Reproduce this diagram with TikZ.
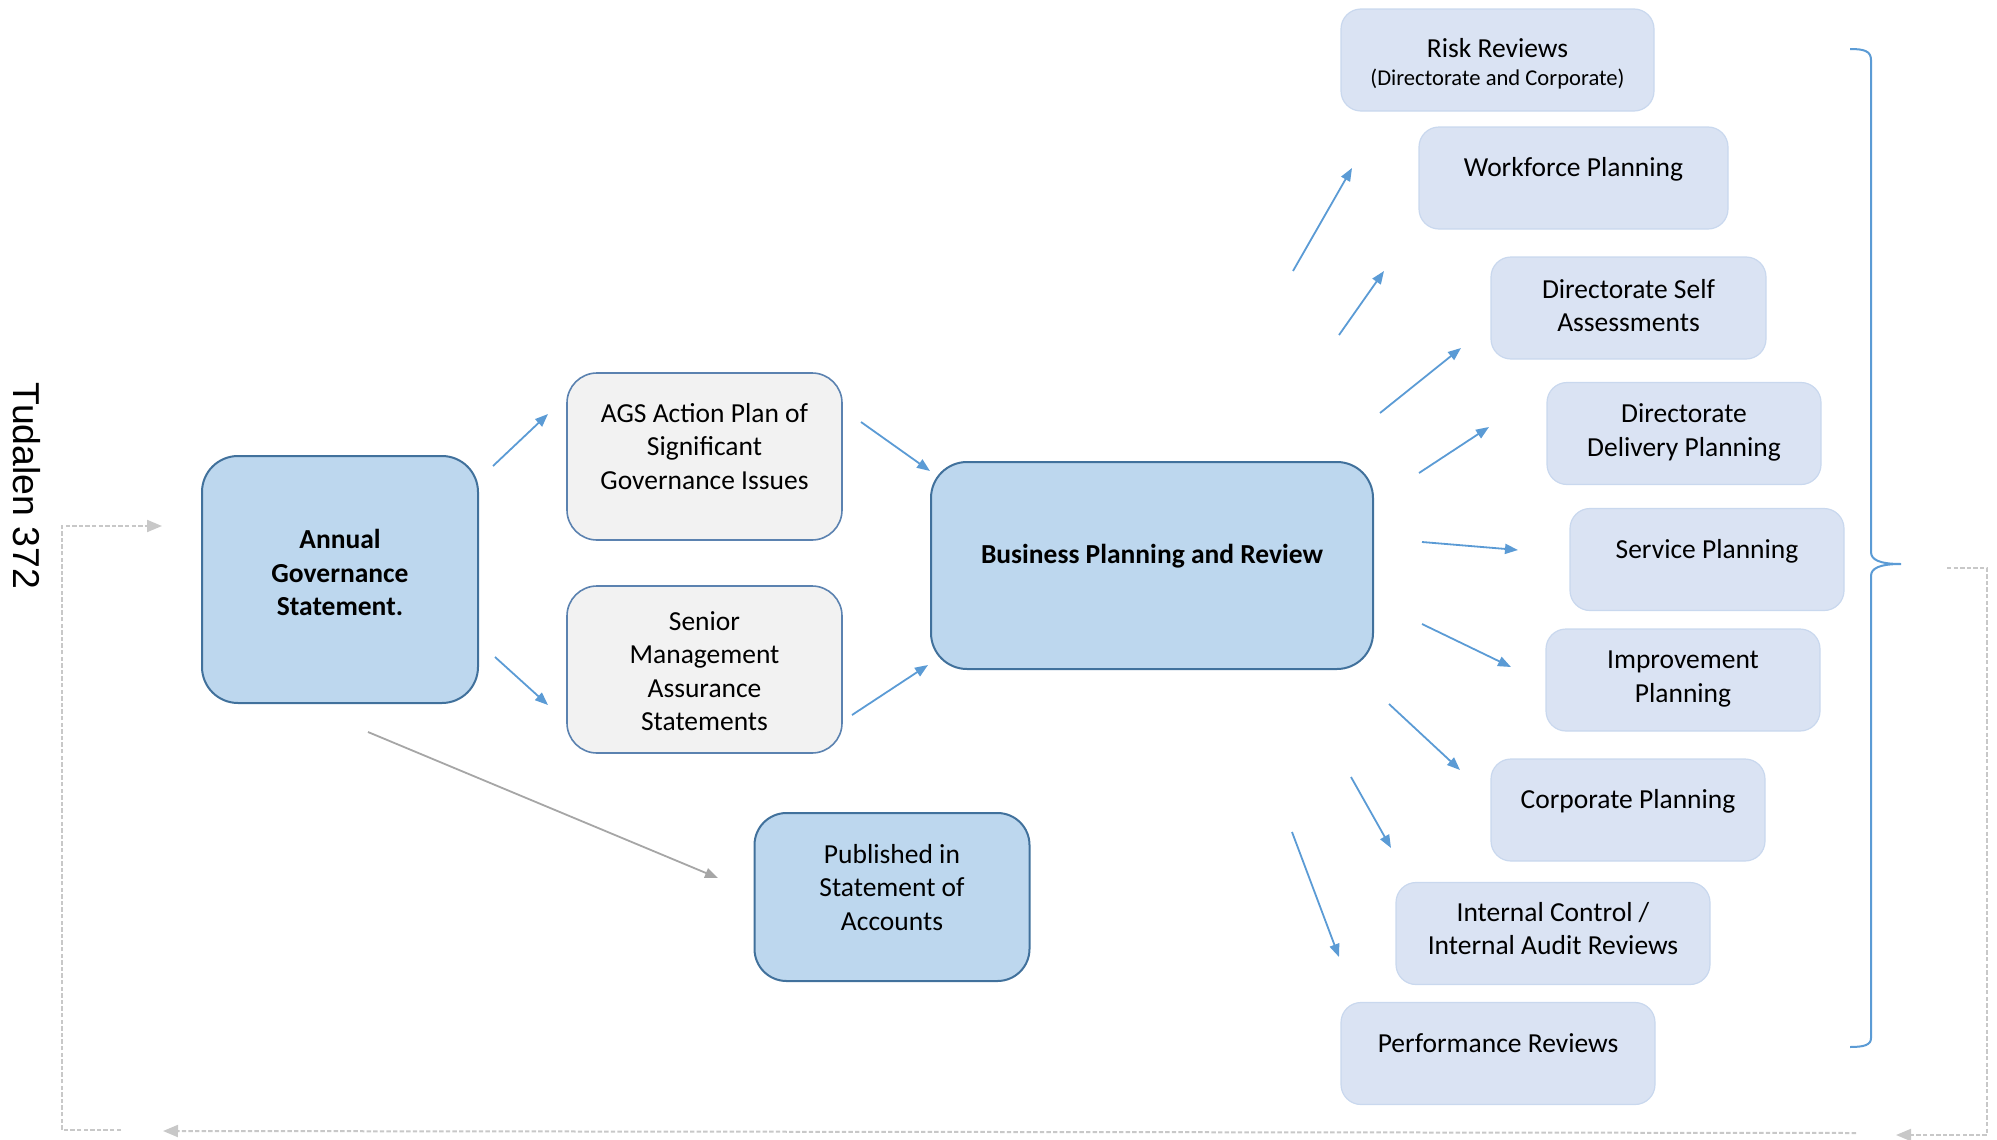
\documentclass[tikz,border=0pt]{standalone}
\usepackage{fontspec}
\setmainfont{Carlito}
\newfontfamily\pagefont{Liberation Sans}
\usetikzlibrary{arrows.meta}
\definecolor{boxblue}{HTML}{BDD7EE}
\definecolor{boxedge}{HTML}{41719C}
\definecolor{greyedge}{HTML}{5B82B0}
\definecolor{boxgray}{HTML}{F2F2F2}
\definecolor{sidefill}{HTML}{DAE3F3}
\definecolor{sideedge}{HTML}{C9D8EE}
\definecolor{arrowblue}{HTML}{5B9BD5}
\definecolor{greyarrow}{HTML}{A6A6A6}
\definecolor{dashgrey}{HTML}{C8C8C8}
\begin{document}
\begin{tikzpicture}[x=0.5pt,y=-0.5pt,
  bigbox/.style={draw=boxedge,line width=1pt,fill=boxblue,rounded corners=18pt,inner sep=0pt},
  greybox/.style={draw=greyedge,line width=0.8pt,fill=boxgray,rounded corners=15pt,inner sep=0pt},
  sidebox/.style={draw=sideedge,line width=0.6pt,fill=sidefill,rounded corners=10pt,inner sep=0pt,minimum height=51pt},
  txt/.style={align=center,inner sep=0pt,font=\fontsize{13.75pt}{16.75pt}\selectfont},
  btxt/.style={align=center,inner sep=0pt,font=\fontsize{13.75pt}{16.75pt}\selectfont\bfseries},
  flow/.style={draw=arrowblue,line width=0.9pt,-{Triangle[length=6.5pt,width=5pt]}},
  greyflow/.style={draw=greyarrow,line width=0.9pt,-{Triangle[length=6.5pt,width=5pt]}},
  fb/.style={draw=dashgrey,line width=1pt,dash pattern=on 2.2pt off 1.1pt},
  fbtip/.style={fb,-{Triangle[length=7.5pt,width=6pt]}},
  brace/.style={draw=arrowblue,line width=1pt}
]
\useasboundingbox (0,0) rectangle (1997,1140);

% page label
\node[rotate=-90,inner sep=0pt,font=\pagefont\fontsize{18.7pt}{22pt}\selectfont] (page) at (27,486) {Tudalen 372};

% main boxes
\node[bigbox,minimum width=138pt,minimum height=123.5pt] (ags) at (340,579.5) {};
\node[btxt] (agsT) at ([yshift=3.5pt]ags.center) {Annual\\Governance\\Statement.};

\node[greybox,minimum width=137.5pt,minimum height=83.5pt] (act) at (704.5,456.5) {};
\node[txt] (actT) at ([yshift=5pt]act.center) {AGS Action Plan of\\Significant\\Governance Issues};

\node[greybox,minimum width=137.5pt,minimum height=83.5pt] (sen) at (704.5,669.5) {};
\node[txt] (senT) at ([yshift=-0.7pt]sen.center) {Senior\\Management\\Assurance\\Statements};

\node[bigbox,minimum width=221pt,minimum height=103.5pt] (bpr) at (1152,565.5) {};
\node[btxt] (bprT) at ([yshift=4.5pt]bpr.center) {Business Planning and Review};

\node[bigbox,rounded corners=16pt,minimum width=137.5pt,minimum height=84pt] (pub) at (892,897) {};
\node[txt] (pubT) at ([yshift=4.8pt]pub.center) {Published in\\Statement of\\Accounts};

% side boxes
\node[sidebox,minimum width=156.5pt] (r1) at (1497.5,60) {};
\node[txt] (r1T) at ([yshift=-1.8pt]r1.center) {Risk Reviews\\[-3pt]{\fontsize{11.3pt}{14pt}\selectfont (Directorate and Corporate)}};

\node[sidebox,minimum width=154.5pt] (r2) at (1573.5,178) {};
\node[txt] (r2T) at ([yshift=4.3pt]r2.center) {Workforce Planning};

\node[sidebox,minimum width=137.5pt] (r3) at (1628.5,308) {};
\node[txt] (r3T) at ([yshift=1.2pt]r3.center) {Directorate Self\\Assessments};

\node[sidebox,minimum width=137pt] (r4) at (1684,433.5) {};
\node[txt] (r4T) at ([yshift=0.6pt]r4.center) {Directorate\\Delivery Planning};

\node[sidebox,minimum width=137pt] (r5) at (1707,559.5) {};
\node[txt] (r5T) at ([yshift=4.2pt]r5.center) {Service Planning};

\node[sidebox,minimum width=137pt] (r6) at (1683,680) {};
\node[txt] (r6T) at ([yshift=0.6pt]r6.center) {Improvement\\Planning};

\node[sidebox,minimum width=137pt] (r7) at (1628,810) {};
\node[txt] (r7T) at ([yshift=4.2pt]r7.center) {Corporate Planning};

\node[sidebox,minimum width=157pt] (r8) at (1553,933.5) {};
\node[txt] (r8T) at ([yshift=2.5pt]r8.center) {Internal Control /\\Internal Audit Reviews};

\node[sidebox,minimum width=157pt] (r9) at (1498,1053.5) {};
\node[txt] (r9T) at ([yshift=5.4pt]r9.center) {Performance Reviews};

% arrow end points
\coordinate (a1s) at (493,466);   \coordinate (a1e) at (548,414);
\coordinate (a2s) at (495,657);   \coordinate (a2e) at (548,705);
\coordinate (a3s) at (861,422);   \coordinate (a3e) at (930,471);
\coordinate (a4s) at (852,715);   \coordinate (a4e) at (928,665);
\coordinate (gs) at (368,732);    \coordinate (ge) at (718,878);
\coordinate (b1s) at (1293,271);  \coordinate (b1e) at (1352,168);
\coordinate (b2s) at (1339,335);  \coordinate (b2e) at (1384,271);
\coordinate (b3s) at (1380,413);  \coordinate (b3e) at (1461,348);
\coordinate (b4s) at (1419,473);  \coordinate (b4e) at (1489,427);
\coordinate (b5s) at (1422,542);  \coordinate (b5e) at (1518,550);
\coordinate (b6s) at (1422,624);  \coordinate (b6e) at (1511,667);
\coordinate (b7s) at (1389,704);  \coordinate (b7e) at (1460,770);
\coordinate (b8s) at (1351,777);  \coordinate (b8e) at (1391,848);
\coordinate (b9s) at (1292,832);  \coordinate (b9e) at (1339,957);

\draw[flow] (a1s) -- (a1e);
\draw[flow] (a2s) -- (a2e);
\draw[flow] (a3s) -- (a3e);
\draw[flow] (a4s) -- (a4e);
\draw[greyflow] (gs) -- (ge);
\draw[flow] (b1s) -- (b1e);
\draw[flow] (b2s) -- (b2e);
\draw[flow] (b3s) -- (b3e);
\draw[flow] (b4s) -- (b4e);
\draw[flow] (b5s) -- (b5e);
\draw[flow] (b6s) -- (b6e);
\draw[flow] (b7s) -- (b7e);
\draw[flow] (b8s) -- (b8e);
\draw[flow] (b9s) -- (b9e);

% right brace
\coordinate (brTop) at (1850,49);
\coordinate (brTip) at (1901,564);
\coordinate (brBot) at (1850,1047);
\draw[brace] (brTop) .. controls (1864,49) and (1871,51) .. (1871,60) -- (1871,552)
  .. controls (1871,560) and (1880,564) .. (brTip)
  .. controls (1880,564) and (1871,568) .. (1871,576) -- (1871,1038)
  .. controls (1871,1045) and (1864,1047) .. (brBot);

% feedback dashed loop
\coordinate (fA) at (1947,568);
\coordinate (fB) at (1987,568);
\coordinate (fC) at (1987,1135);
\coordinate (fD) at (1896,1135);
\coordinate (fE) at (1856,1133);
\coordinate (fF) at (163,1131);
\coordinate (fG) at (121,1130);
\coordinate (fH) at (62,1130);
\coordinate (fI) at (62,526);
\coordinate (fJ) at (162,526);
\draw[fbtip] (fA) -- (fB) -- (fC) -- (fD);
\draw[fbtip] (fE) -- (fF);
\draw[fbtip] (fG) -- (fH) -- (fI) -- (fJ);
\end{tikzpicture}
\end{document}
